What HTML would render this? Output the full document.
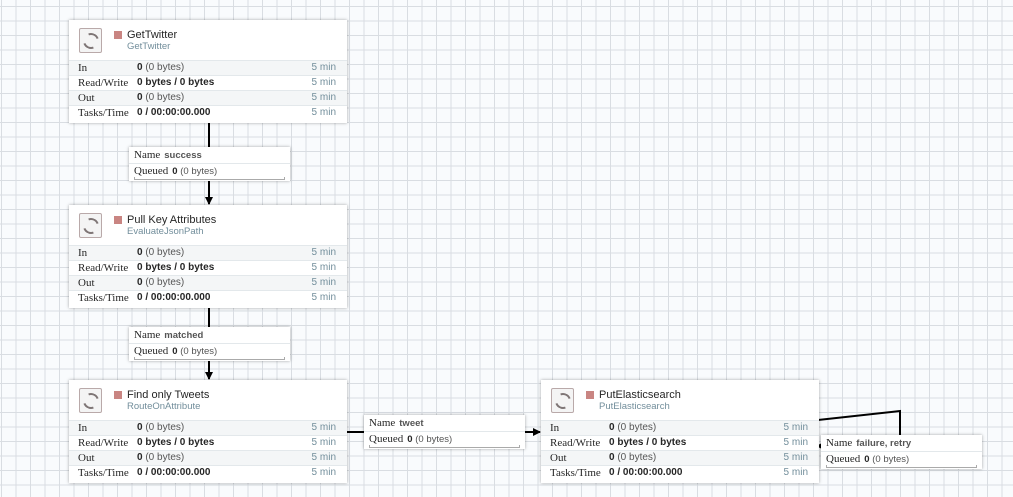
<!DOCTYPE html>
<html><head><meta charset="utf-8"><style>
body{margin:0;width:1013px;height:497px;overflow:hidden;position:relative;
background-color:#f9fbfd;
background-image:linear-gradient(#d9dde2 1px,transparent 1px),linear-gradient(90deg,#d9dde2 1px,transparent 1px);
background-size:14.5px 14.5px;background-position:0 6px, 1px 0;font-family:"Liberation Sans",sans-serif;}
.p{position:absolute;width:278px;height:103px;background:#fff;box-shadow:0 0 3px rgba(0,0,0,.35);}
.ic{position:absolute;left:10px;top:8px;width:21px;height:23px;border:1px solid #b9a9a9;border-radius:2px;background:#f4f4f4}
.ic:after{content:"";position:absolute;left:3px;top:4px;width:12px;height:12px;border:2px solid #7f7676;border-radius:50%;border-left-color:transparent;border-right-color:transparent;transform:rotate(25deg)}
.sq{position:absolute;left:45px;top:11px;width:8px;height:8px;background:#c98582}
.t{position:absolute;left:58px;top:9px;font-size:11px;color:#262626}
.st{position:absolute;left:58px;top:21px;font-size:9.5px;color:#728e9b}
.r{position:absolute;left:0;width:278px;height:15px;border-top:1px solid #e3e8eb;font-size:10px;line-height:14px;box-sizing:border-box}
.r.a{background:#f4f6f7}
.l{position:absolute;left:9px;font-family:"Liberation Serif",serif;font-size:11px;color:#262626}
.v{position:absolute;left:68px;color:#262626}
.v span{color:#555}
.m{position:absolute;right:11px;color:#728e9b}
.c{position:absolute;width:161px;height:34px;background:#fff;box-shadow:0 0 3px rgba(0,0,0,.35);font-size:10px}
.c .n{position:absolute;left:5px;top:2px;font-family:"Liberation Serif",serif;font-size:11px;color:#262626}
.c .n b{font-family:"Liberation Sans",sans-serif;font-size:9.5px;color:#555;margin-left:4px}
.c .q{position:absolute;left:0;top:16px;width:161px;height:18px;border-top:1px solid #e3e8eb;}
.c .qt{position:absolute;left:5px;top:1px;font-family:"Liberation Serif",serif;font-size:11px;color:#262626}
.c .qt b{font-family:"Liberation Sans",sans-serif;font-size:9.5px;margin-left:4px}
.c .qt span{font-family:"Liberation Sans",sans-serif;font-size:9.5px;color:#555}
.c .bar{position:absolute;left:5px;right:5px;bottom:2px;height:2px;border-bottom:1px solid #aaa;border-left:1px solid #aaa;border-right:1px solid #aaa}
</style></head><body>
<svg width="1013" height="497" style="position:absolute;left:0;top:0">
<defs><marker id="a" markerWidth="8" markerHeight="8" refX="7" refY="4" orient="auto" markerUnits="userSpaceOnUse"><path d="M0,0 L8,4 L0,8 z" fill="#000"/></marker></defs>
<g stroke="#000" stroke-width="2" fill="none">
<line x1="209" y1="123" x2="209" y2="204" marker-end="url(#a)"/>
<line x1="209" y1="308" x2="209" y2="379" marker-end="url(#a)"/>
<line x1="347" y1="432" x2="540" y2="432" marker-end="url(#a)"/>
<polyline points="818,420 900,411 900,437"/>
<line x1="824" y1="446" x2="817" y2="446" marker-end="url(#a)"/>
</g></svg>

<div class="p" style="left:69px;top:20px"><div class="ic"></div><div class="sq"></div><div class="t">GetTwitter</div><div class="st">GetTwitter</div>
<div class="r a" style="top:40px"><span class="l">In</span><span class="v"><b>0</b> <span>(0 bytes)</span></span><span class="m">5 min</span></div>
<div class="r" style="top:55px"><span class="l">Read/Write</span><span class="v"><b>0 bytes / 0 bytes</b></span><span class="m">5 min</span></div>
<div class="r a" style="top:70px"><span class="l">Out</span><span class="v"><b>0</b> <span>(0 bytes)</span></span><span class="m">5 min</span></div>
<div class="r" style="top:85px"><span class="l">Tasks/Time</span><span class="v"><b>0 / 00:00:00.000</b></span><span class="m">5 min</span></div></div>

<div class="p" style="left:69px;top:205px"><div class="ic"></div><div class="sq"></div><div class="t">Pull Key Attributes</div><div class="st">EvaluateJsonPath</div>
<div class="r a" style="top:40px"><span class="l">In</span><span class="v"><b>0</b> <span>(0 bytes)</span></span><span class="m">5 min</span></div>
<div class="r" style="top:55px"><span class="l">Read/Write</span><span class="v"><b>0 bytes / 0 bytes</b></span><span class="m">5 min</span></div>
<div class="r a" style="top:70px"><span class="l">Out</span><span class="v"><b>0</b> <span>(0 bytes)</span></span><span class="m">5 min</span></div>
<div class="r" style="top:85px"><span class="l">Tasks/Time</span><span class="v"><b>0 / 00:00:00.000</b></span><span class="m">5 min</span></div></div>

<div class="p" style="left:69px;top:380px"><div class="ic"></div><div class="sq"></div><div class="t">Find only Tweets</div><div class="st">RouteOnAttribute</div>
<div class="r a" style="top:40px"><span class="l">In</span><span class="v"><b>0</b> <span>(0 bytes)</span></span><span class="m">5 min</span></div>
<div class="r" style="top:55px"><span class="l">Read/Write</span><span class="v"><b>0 bytes / 0 bytes</b></span><span class="m">5 min</span></div>
<div class="r a" style="top:70px"><span class="l">Out</span><span class="v"><b>0</b> <span>(0 bytes)</span></span><span class="m">5 min</span></div>
<div class="r" style="top:85px"><span class="l">Tasks/Time</span><span class="v"><b>0 / 00:00:00.000</b></span><span class="m">5 min</span></div></div>

<div class="p" style="left:541px;top:380px"><div class="ic"></div><div class="sq"></div><div class="t">PutElasticsearch</div><div class="st">PutElasticsearch</div>
<div class="r a" style="top:40px"><span class="l">In</span><span class="v"><b>0</b> <span>(0 bytes)</span></span><span class="m">5 min</span></div>
<div class="r" style="top:55px"><span class="l">Read/Write</span><span class="v"><b>0 bytes / 0 bytes</b></span><span class="m">5 min</span></div>
<div class="r a" style="top:70px"><span class="l">Out</span><span class="v"><b>0</b> <span>(0 bytes)</span></span><span class="m">5 min</span></div>
<div class="r" style="top:85px"><span class="l">Tasks/Time</span><span class="v"><b>0 / 00:00:00.000</b></span><span class="m">5 min</span></div></div>

<div class="c" style="left:129px;top:147px"><div class="n">Name<b>success</b></div><div class="q"><div class="qt">Queued<b>0</b> <span>(0 bytes)</span></div><div class="bar"></div></div></div>
<div class="c" style="left:129px;top:327px"><div class="n">Name<b>matched</b></div><div class="q"><div class="qt">Queued<b>0</b> <span>(0 bytes)</span></div><div class="bar"></div></div></div>
<div class="c" style="left:364px;top:415px"><div class="n">Name<b>tweet</b></div><div class="q"><div class="qt">Queued<b>0</b> <span>(0 bytes)</span></div><div class="bar"></div></div></div>
<div class="c" style="left:821px;top:435px"><div class="n">Name<b>failure, retry</b></div><div class="q"><div class="qt">Queued<b>0</b> <span>(0 bytes)</span></div><div class="bar"></div></div></div>
</body></html>
